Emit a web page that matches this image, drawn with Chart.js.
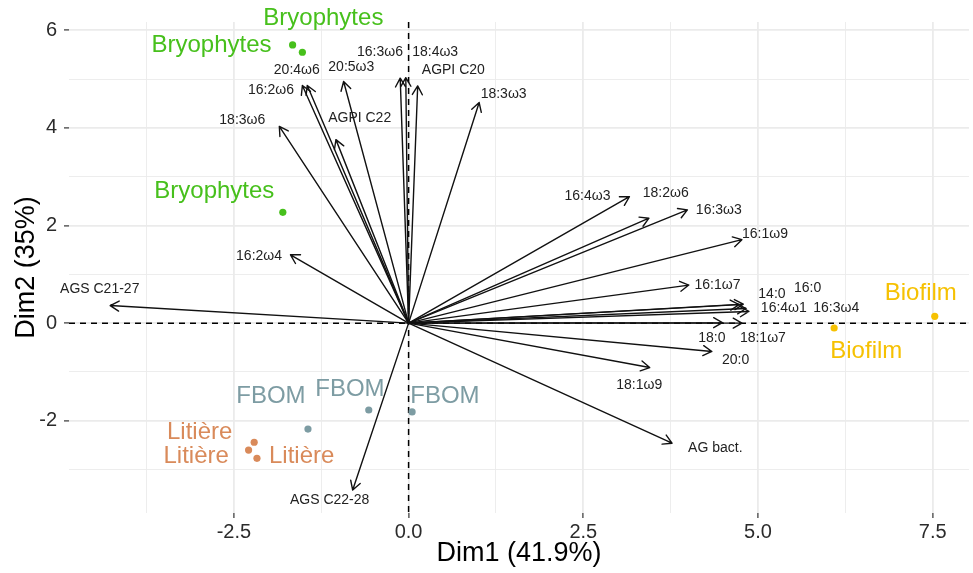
<!DOCTYPE html>
<html><head><meta charset="utf-8">
<script src="https://cdn.jsdelivr.net/npm/chart.js@4.4.1/dist/chart.umd.min.js"></script>
<style>html,body{margin:0;padding:0;background:#fff}canvas{display:block}</style>
</head><body>
<canvas id="c" width="973" height="573"></canvas>
<script>
// ---------- data ----------
const groupNames = ['Bryophytes', 'Litière', 'FBOM', 'Biofilm'];
const bryoX = [-1.66, -1.52, -1.80];
const bryoY = [5.70, 5.55, 2.27];
const litX = [-2.21, -2.29, -2.17];
const litY = [-2.44, -2.60, -2.77];
const fbomX = [-1.44, -0.57, 0.05];
const fbomY = [-2.17, -1.78, -1.82];
const bioX = [7.53, 6.09];
const bioY = [0.14, -0.10];

// group label positions (repelled text)
const bryoLabX = [-1.22, -2.82, -2.78];
const bryoLabY = [6.24, 5.70, 2.69];
const litLabX = [-2.99, -3.04, -1.53];
const litLabY = [-2.24, -2.73, -2.73];
const fbomLabX = [-1.97, -0.84, 0.52];
const fbomLabY = [-1.50, -1.35, -1.50];
const bioLabX = [7.33, 6.55];
const bioLabY = [0.60, -0.58];

// variable arrows (loadings)
const varNames = ['AGS C21-27', '16:2ω4', '18:3ω6', '16:2ω6', '20:4ω6', 'AGPI C22', '20:5ω3',
  '16:3ω6', '18:4ω3', 'AGPI C20', '18:3ω3', '16:4ω3', '18:2ω6', '16:3ω3', '16:1ω9', '16:1ω7',
  '14:0', '16:0', '16:4ω1', '16:3ω4', '18:0', '18:1ω7', '20:0', '18:1ω9', 'AG bact.', 'AGS C22-28'];
const varX = [-4.27, -1.69, -1.85, -1.52, -1.45, -1.04, -0.93, -0.12, -0.04, 0.13, 1.01, 3.16, 3.44,
  3.99, 4.77, 4.01, 4.73, 4.79, 4.87, 4.83, 4.49, 4.77, 4.34, 3.45, 3.77, -0.80];
const varY = [0.36, 1.40, 4.03, 4.87, 4.87, 3.76, 4.95, 5.02, 5.03, 4.86, 4.52, 2.59, 2.15,
  2.32, 1.71, 0.78, 0.38, 0.39, 0.24, 0.30, 0.01, 0.00, -0.58, -0.91, -2.46, -3.42];
const varLabX = [-4.42, -2.14, -2.38, -1.97, -1.60, -0.70, -0.82, -0.41, 0.38, 0.64, 1.36, 2.56, 3.68,
  4.44, 5.10, 4.42, 5.20, 5.71, 5.37, 6.12, 4.34, 5.07, 4.68, 3.30, 4.39, -1.13];
const varLabY = [0.70, 1.38, 4.15, 4.78, 5.19, 4.19, 5.24, 5.55, 5.55, 5.18, 4.70, 2.61, 2.66,
  2.32, 1.83, 0.78, 0.60, 0.72, 0.31, 0.31, -0.31, -0.31, -0.75, -1.28, -2.56, -3.62];

// axes
const xMin = -4.86, xMax = 8.02, yMin = -3.89, yMax = 6.17;
const xGrid = [-3.75, -2.5, -1.25, 0, 1.25, 2.5, 3.75, 5, 6.25, 7.5];
const xTickValues = [-2.5, 0, 2.5, 5, 7.5];
const xTickLabels = ['-2.5', '0.0', '2.5', '5.0', '7.5'];
const yGrid = [-3, -2, -1, 0, 1, 2, 3, 4, 5, 6];
const yTickValues = [-2, 0, 2, 4, 6];
const yTickLabels = ['-2', '0', '2', '4', '6'];
const xTitle = 'Dim1 (41.9%)';
const yTitle = 'Dim2 (35%)';

// ---------- styles ----------
const FONT = "'Liberation Sans', Arial, Helvetica, sans-serif";
const groupColors = ['#47c01c', '#d98a5a', '#7d9ca3', '#f6c102'];
const groupPts = [[bryoX, bryoY], [litX, litY], [fbomX, fbomY], [bioX, bioY]];
const groupLabs = [[bryoLabX, bryoLabY], [litLabX, litLabY], [fbomLabX, fbomLabY], [bioLabX, bioLabY]];

const toXY = (xs, ys) => xs.map((v, i) => ({x: v, y: ys[i]}));
const isMajorX = v => xTickValues.some(t => Math.abs(t - v) < 1e-9);
const isMajorY = v => yTickValues.some(t => Math.abs(t - v) < 1e-9);

const biplot = {
  id: 'biplot',
  beforeDatasetsDraw(chart) {
    const {ctx, chartArea: a, scales: {x, y}} = chart;
    const x0 = x.getPixelForValue(0), y0 = y.getPixelForValue(0);
    ctx.save();
    ctx.strokeStyle = '#000';
    ctx.lineWidth = 1.5;
    ctx.setLineDash([6, 5]);
    ctx.beginPath();
    ctx.moveTo(a.left, y0); ctx.lineTo(a.right, y0);
    ctx.moveTo(x0, a.top); ctx.lineTo(x0, a.bottom);
    ctx.stroke();
    ctx.setLineDash([]);
    ctx.strokeStyle = '#111';
    ctx.lineWidth = 1.4;
    ctx.lineCap = 'round';
    ctx.lineJoin = 'round';
    for (let i = 0; i < varX.length; i++) {
      const tx = x.getPixelForValue(varX[i]), ty = y.getPixelForValue(varY[i]);
      const ang = Math.atan2(ty - y0, tx - x0);
      const L = 10, A = Math.PI / 6;
      ctx.beginPath();
      ctx.moveTo(x0, y0); ctx.lineTo(tx, ty);
      ctx.moveTo(tx - L * Math.cos(ang - A), ty - L * Math.sin(ang - A));
      ctx.lineTo(tx, ty);
      ctx.lineTo(tx - L * Math.cos(ang + A), ty - L * Math.sin(ang + A));
      ctx.stroke();
    }
    ctx.restore();
  },
  afterDatasetsDraw(chart) {
    const {ctx, scales: {x, y}} = chart;
    ctx.save();
    ctx.textAlign = 'center';
    ctx.textBaseline = 'middle';
    ctx.font = '14px ' + FONT;
    ctx.fillStyle = '#222';
    for (let i = 0; i < varNames.length; i++) {
      ctx.fillText(varNames[i], x.getPixelForValue(varLabX[i]), y.getPixelForValue(varLabY[i]));
    }
    ctx.font = '24px ' + FONT;
    groupLabs.forEach(([lx, ly], g) => {
      ctx.fillStyle = groupColors[g];
      lx.forEach((v, i) => ctx.fillText(groupNames[g], x.getPixelForValue(v), y.getPixelForValue(ly[i])));
    });
    ctx.restore();
  }
};

new Chart(document.getElementById('c'), {
  type: 'scatter',
  data: {
    datasets: groupPts.map(([xs, ys], g) => ({
      label: groupNames[g],
      data: toXY(xs, ys),
      backgroundColor: groupColors[g],
      borderWidth: 0,
      pointRadius: 3.6
    }))
  },
  options: {
    responsive: false,
    animation: false,
    devicePixelRatio: 1,
    layout: {padding: {top: 22, left: 0, right: 0, bottom: 0}},
    plugins: {legend: {display: false}, tooltip: {enabled: false}},
    scales: {
      x: {
        type: 'linear', min: xMin, max: xMax,
        afterBuildTicks: s => { s.ticks = xGrid.map(v => ({value: v})); },
        afterFit: s => { s.height = 60; s.paddingLeft = 0; s.paddingRight = 0; },
        border: {display: false},
        grid: {
          color: '#ebebeb',
          lineWidth: c => (c.tick && isMajorX(c.tick.value)) ? 1.8 : 0.9,
          drawTicks: true, tickLength: 5, tickWidth: 1.2,
          tickColor: c => (c.tick && isMajorX(c.tick.value)) ? '#333' : 'rgba(0,0,0,0)'
        },
        ticks: {
          autoSkip: false, maxRotation: 0, padding: 2, color: '#2b2b2b',
          font: {family: FONT, size: 20},
          callback: v => { const k = xTickValues.findIndex(t => Math.abs(t - v) < 1e-9); return k >= 0 ? xTickLabels[k] : ''; }
        },
        title: {display: true, text: xTitle, color: '#000', font: {family: FONT, size: 27}, padding: {top: 0, bottom: 3}}
      },
      y: {
        type: 'linear', min: yMin, max: yMax,
        afterBuildTicks: s => { s.ticks = yGrid.map(v => ({value: v})); },
        afterFit: s => { s.width = 69; s.paddingTop = 0; s.paddingBottom = 0; },
        border: {display: false},
        grid: {
          color: '#ebebeb',
          lineWidth: c => (c.tick && isMajorY(c.tick.value)) ? 1.8 : 0.9,
          drawTicks: true, tickLength: 5, tickWidth: 1.2,
          tickColor: c => (c.tick && isMajorY(c.tick.value)) ? '#333' : 'rgba(0,0,0,0)'
        },
        ticks: {
          autoSkip: false, padding: 7, color: '#2b2b2b',
          font: {family: FONT, size: 20},
          callback: v => { const k = yTickValues.findIndex(t => Math.abs(t - v) < 1e-9); return k >= 0 ? yTickLabels[k] : ''; }
        },
        title: {display: true, text: yTitle, color: '#000', font: {family: FONT, size: 27}, padding: {top: 10, bottom: 0}}
      }
    }
  },
  plugins: [biplot]
});
</script>
</body></html>
